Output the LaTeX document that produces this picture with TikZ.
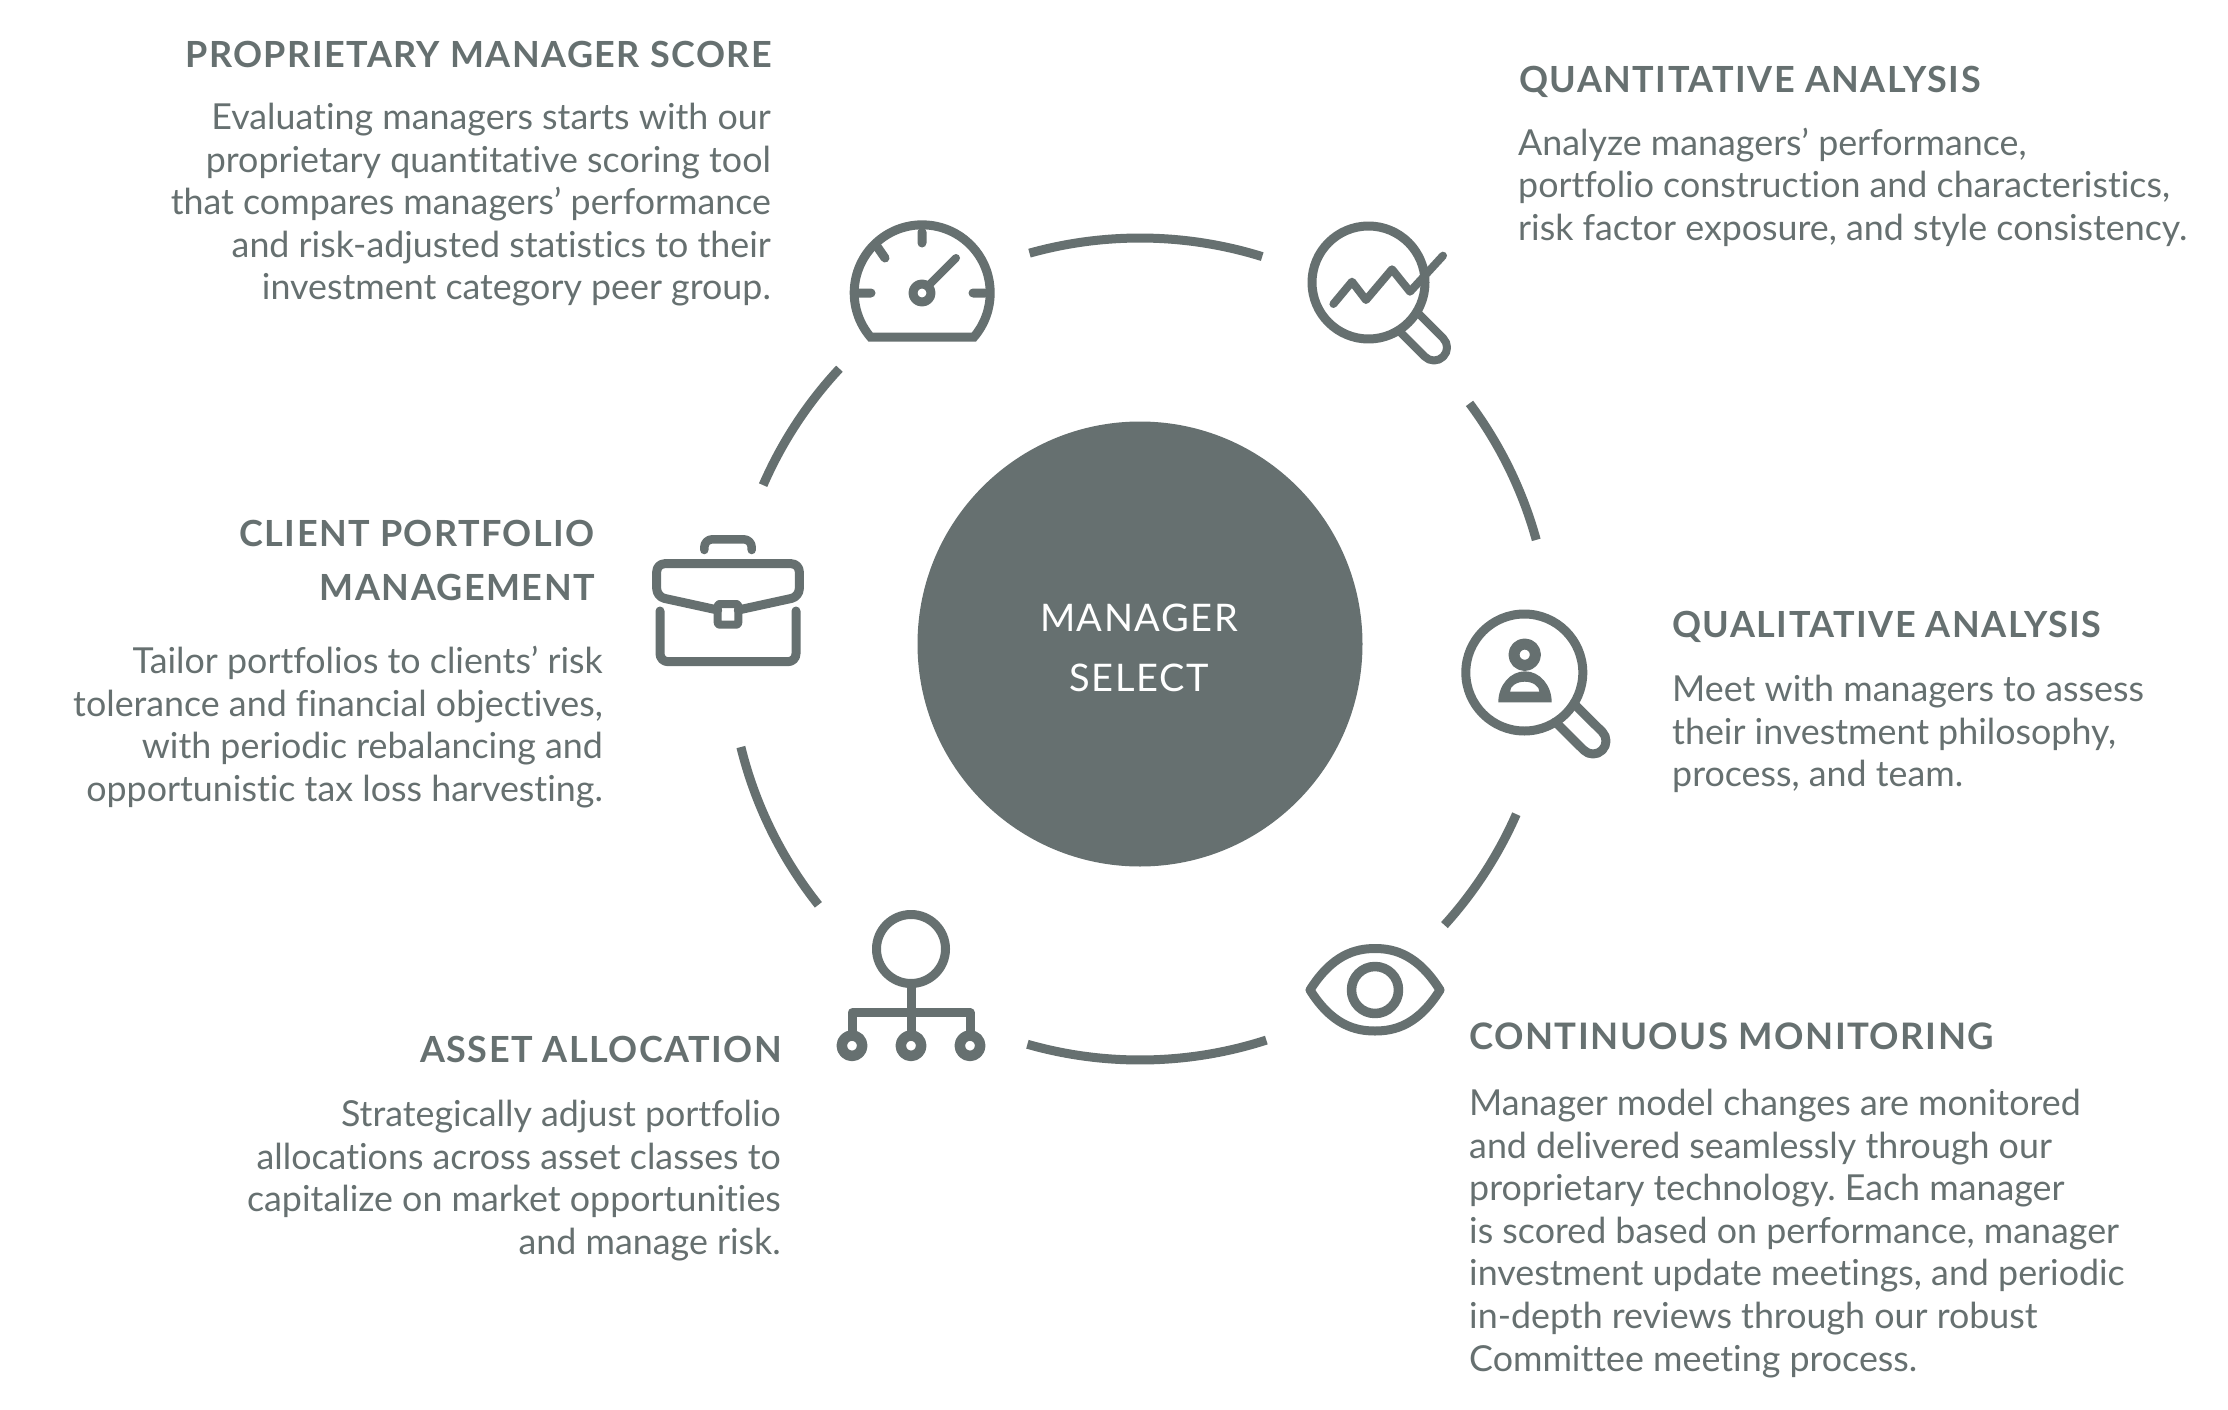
\documentclass[tikz,border=0pt]{standalone}
\usepackage{fontspec}
\setmainfont[Ligatures=NoCommon]{Lato}
\newfontfamily\headfont[LetterSpace=4,BoldFont={Lato Bold}]{Lato}
\definecolor{slate}{HTML}{667070}
\newcommand{\bodysize}{\fontsize{35.8}{42.6}\selectfont\frenchspacing}
\newcommand{\headsize}{\fontsize{36}{53.5}\selectfont\headfont\bfseries}
\tikzset{
  x=1pt,y=-1pt,
  ring/.style={draw=slate,line width=9pt},
  icon/.style={draw=slate,line width=9pt,line cap=round,line join=round},
  bodyr/.style={anchor=north east,align=right,inner sep=0pt,text=slate,font=\bodysize},
  bodyl/.style={anchor=north west,align=left,inner sep=0pt,text=slate,font=\bodysize},
  headr/.style={anchor=north east,align=right,inner sep=0pt,text=slate,font=\headsize},
  headl/.style={anchor=north west,align=left,inner sep=0pt,text=slate,font=\headsize},
}
\begin{document}
\begin{tikzpicture}
\useasboundingbox (0,0) rectangle (2228,1410);
\fill[white] (0,0) rectangle (2228,1410);
\coordinate (c) at (1140,649);
% ring
\draw[ring] (c) ++(-105.6:411) arc[start angle=-105.6,end angle=-72.7,radius=411];
\draw[ring] (c) ++(-36.7:411) arc[start angle=-36.7,end angle=-15.4,radius=411];
\draw[ring] (c) ++(23.7:411) arc[start angle=23.7,end angle=42.2,radius=411];
\draw[ring] (c) ++(72.1:411) arc[start angle=72.1,end angle=105.9,radius=411];
\draw[ring] (c) ++(141.5:411) arc[start angle=141.5,end angle=166.2,radius=411];
\draw[ring] (c) ++(-137:411) arc[start angle=-137,end angle=-156.5,radius=411];
% hub
\node[circle,fill=slate,minimum size=445pt,inner sep=0pt] (hub) at (1140,644) {};
\node[align=center,inner sep=0pt,text=white,font=\fontsize{38}{60}\selectfont\headfont] (hubtext) at (1139,647.5) {MANAGER\\SELECT};
% gauge
\draw[icon,line cap=butt,line join=miter] (870.5,337) arc[start angle=139.5,end angle=400.5,radius=68] -- cycle;
\draw[icon] (922,232) -- (922,243) (859,293) -- (871,293) (985,293) -- (973,293) (876,245) -- (885,258);
\draw[icon] (922,293) circle[radius=9];
\draw[icon,line width=8pt] (929,285) -- (956,258);
% magnifier 1
\draw[icon] (1368.5,282.5) circle[radius=56.5];
\draw[icon,line width=8pt] (1416.7,311.8) -- (1443.2,338.3) arc[start angle=-45,end angle=135,radius=13] -- (1398.3,330.2);
\draw[icon,line width=8pt] (1333.4,304) -- (1352,281.7) -- (1366,300) -- (1392,269.3) -- (1410,291.7) -- (1443,255.7);
% magnifier 2
\draw[icon] (1524.3,672.5) circle[radius=58.5];
\draw[icon] (1573.8,703.6) -- (1602.2,731.8) arc[start angle=-45,end angle=135,radius=13] -- (1555.4,722);
\draw[icon,line width=11pt] (1524.7,654.7) circle[radius=10.7];
\fill[slate,even odd rule] (1498.3,702.3) arc[start angle=180,end angle=360,x radius=26.7,y radius=31] -- cycle
  (1510,691.7) arc[start angle=180,end angle=360,x radius=14.7,y radius=10] -- cycle;
% briefcase
\draw[icon,rounded corners=8pt,line width=8.5pt] (704.3,550) -- (704.3,539.3) -- (751.7,539.3) -- (751.7,550);
\draw[icon,rounded corners=8pt] (717.7,610) -- (656.7,596.7) -- (656.7,563.7) -- (799.3,563.7) -- (799.3,596.7) -- (738.3,610);
\draw[icon,rounded corners=2pt,line width=8pt] (717.7,604) rectangle (738.3,624.7);
\draw[icon,rounded corners=8pt] (660,611) -- (660,661.7) -- (796,661.7) -- (796,611);
% hierarchy
\draw[icon] (911,949) circle[radius=34.5];
\draw[icon,line cap=butt] (911,984) -- (911,1031);
\draw[icon,line cap=butt,line join=round] (852,1031) -- (852,1012.8) -- (970,1012.8) -- (970,1031);
\foreach \px in {852,911,970}{\draw[icon,line width=10.5pt] (\px,1045.7) circle[radius=10.2];}
% eye
\draw[icon] (1310,990) .. controls (1332,955) and (1355,948.5) .. (1375,948.5)
  .. controls (1395,948.5) and (1418,955) .. (1440,990)
  .. controls (1418,1025) and (1395,1031) .. (1375,1031)
  .. controls (1355,1031) and (1332,1025) .. (1310,990) -- cycle;
\draw[icon,line width=9.5pt] (1375,990) circle[radius=23.5];
% texts
\node[headr] (h1) at (772,41) {PROPRIETARY MANAGER SCORE};
\node[bodyr] (b1) at (771,103) {Evaluating managers starts with our\\proprietary quantitative scoring tool\\that compares managers’ performance\\and risk-adjusted statistics to their\\investment category peer group.};
\node[headl] (h2) at (1519,66) {QUANTITATIVE ANALYSIS};
\node[bodyl] (b2) at (1518,127.5) {Analyze managers’ performance,\\portfolio construction and characteristics,\\risk factor exposure, and style consistency.};
\node[headr] (h3) at (595,520) {CLIENT PORTFOLIO\\MANAGEMENT};
\node[bodyr] (b3) at (603,646) {Tailor portfolios to clients’ risk\\tolerance and financial objectives,\\with periodic rebalancing and\\opportunistic tax loss harvesting.};
\node[headl] (h4) at (1672,611) {QUALITATIVE ANALYSIS};
\node[bodyl] (b4) at (1672,675) {Meet with managers to assess\\their investment philosophy,\\process, and team.};
\node[headr] (h5) at (782,1036) {ASSET ALLOCATION};
\node[bodyr] (b5) at (781,1100) {Strategically adjust portfolio\\allocations across asset classes to\\capitalize on market opportunities\\and manage risk.};
\node[headl,font=\fontsize{36.5}{53.5}\selectfont\headfont\bfseries] (h6) at (1469,1022.5) {CONTINUOUS MONITORING};
\node[bodyl] (b6) at (1469,1089) {Manager model changes are monitored\\and delivered seamlessly through our\\proprietary technology. Each manager\\is scored based on performance, manager\\investment update meetings, and periodic\\in-depth reviews through our robust\\Committee meeting process.};
\end{tikzpicture}
\end{document}
